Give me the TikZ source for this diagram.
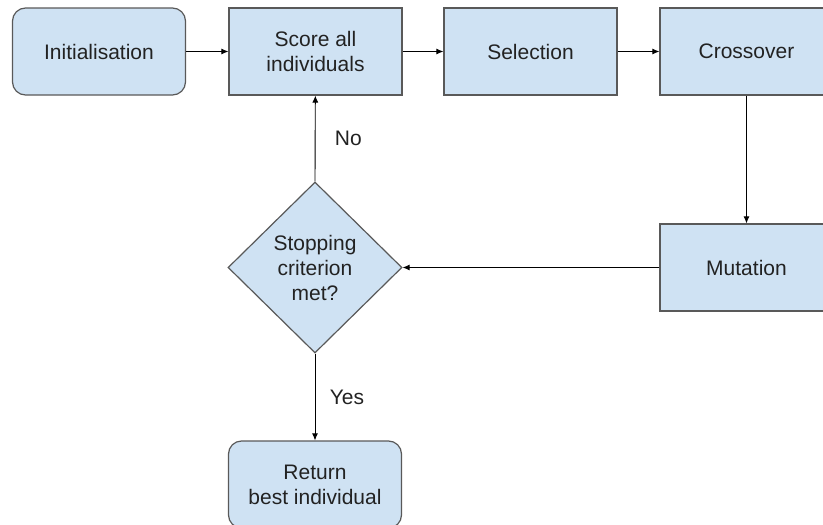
\documentclass[tikz,border=0pt]{standalone}
\usepackage{fontspec}
\setmainfont{Liberation Sans}
\usepackage{tikz}
\usetikzlibrary{arrows.meta,shapes}

\definecolor{boxblue}{HTML}{CFE2F3}
\definecolor{boxline}{HTML}{595959}
\definecolor{txt}{HTML}{222222}

\begin{document}
\begin{tikzpicture}[x=1pt,y=-1pt]
		\tikzset{block/.style = {shape=rectangle,draw=boxline,fill=boxblue,line width=1.2pt,minimum width=173pt,minimum height=87pt,inner sep=0pt,align=center,text=txt,font=\fontsize{21}{25}\selectfont}}
		\tikzset{startstop/.style = {block,rounded corners=13pt}}
		\tikzset{decision/.style = {block,shape=diamond,minimum width=174pt,minimum height=171pt}}
		\tikzset{edge/.style = {->,> = {Latex[length=7pt,width=6pt]},line width=0.9pt}}
		\tikzset{answer/.style = {text=txt,font=\fontsize{21}{25}\selectfont}}
		
		\clip (0,0) rectangle (823,525);
		\useasboundingbox (0,0) rectangle (823,525);
		
		\node[startstop] (init) at (99,51.5) {Initialisation};
		\node[block] (score) at (315.5,51.5) {Score all\\individuals};
		\node[block] (select) at (530.5,51.5) {Selection};
		\node[block] (cross) at (746.5,51.5) {Crossover};
		\node[block] (mut) at (746.5,267.5) {Mutation};
		\node[decision] (stop) at (315,267.5) {Stopping\\criterion\\met?};
		\node[startstop] (ret) at (315,484.5) {Return\\best individual};
		
		\draw[edge] (init) to (score);
		\draw[edge] (score) to (select);
		\draw[edge] (select) to (cross);
		\draw[edge] (cross) to (mut);
		\draw[edge] (mut) to (stop.east);
		\draw[edge] (stop.north) to node[answer,right=16pt] (no) {No} (score);
		\draw[edge] (stop.south) to node[answer,right=11pt] (yes) {Yes} (ret);
		\end{tikzpicture}
\end{document}
